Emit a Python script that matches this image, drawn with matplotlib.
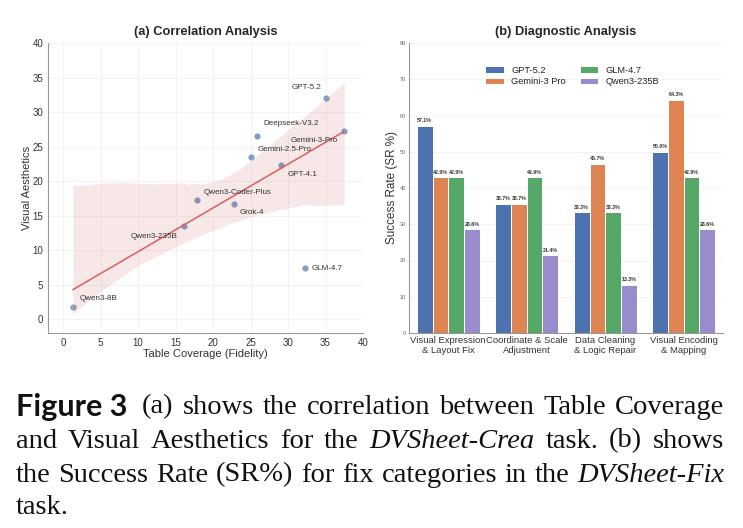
import matplotlib

matplotlib.use("Agg")

import matplotlib.pyplot as plt
import numpy as np
import seaborn as sns

# (a) correlation data
models = [
    "Qwen3-8B", "Qwen3-235B", "Qwen3-Coder-Plus", "Grok-4", "Gemini-2.5-Pro",
    "Deepseek-V3.2", "GPT-4.1", "GLM-4.7", "GPT-5.2", "Gemini-3-Pro",
]
coverage = [1.3, 16.1, 17.9, 22.8, 25.1, 25.9, 29.0, 32.3, 35.0, 37.5]
aesthetics = [1.7, 13.5, 17.3, 16.7, 23.5, 26.5, 22.4, 7.4, 32.0, 27.3]

# (b) diagnostic data
categories = [
    "Visual Expression\n& Layout Fix",
    "Coordinate & Scale\nAdjustment",
    "Data Cleaning\n& Logic Repair",
    "Visual Encoding\n& Mapping",
]
bar_models = ["GPT-5.2", "Gemini-3 Pro", "GLM-4.7", "Qwen3-235B"]
gpt52 = [57.1, 35.7, 33.3, 50.0]
gemini3 = [42.9, 35.7, 46.7, 64.3]
glm47 = [42.9, 42.9, 33.3, 42.9]
qwen235 = [28.6, 21.4, 13.3, 28.6]

# label offsets (points) and alignment for the scatter annotations
label_style = {
    "Qwen3-8B": ((4.9, 6.5), "left"),
    "Qwen3-235B": ((-4.3, -7.5), "right"),
    "Qwen3-Coder-Plus": ((4.3, 5.5), "left"),
    "Grok-4": ((4.3, -6.5), "left"),
    "Gemini-2.5-Pro": ((4.9, 5.5), "left"),
    "Deepseek-V3.2": ((4.3, 9.4), "left"),
    "GPT-4.1": ((4.9, -7.5), "left"),
    "GLM-4.7": ((4.9, 0.0), "left"),
    "GPT-5.2": ((-3.2, 7.5), "right"),
    "Gemini-3-Pro": ((-4.3, -7.0), "right"),
}

CAPTION = [
    [("Figure 3", "label"), ("(a) shows the correlation between Table Coverage", "")],
    [("and Visual Aesthetics for the", ""), ("DVSheet-Crea", "italic"), ("task.  (b) shows", "")],
    [("the Success Rate (SR%) for fix categories in the", ""), ("DVSheet-Fix", "italic")],
    [("task.", "")],
]

sns.set_theme(style="whitegrid")
plt.rcParams["font.family"] = ["Liberation Sans", "DejaVu Sans"]

W, H = 743, 528
fig = plt.figure(figsize=(W / 100, H / 100), dpi=100)


def px_box(x0, y0, x1, y1):
    return [x0 / W, 1 - y1 / H, (x1 - x0) / W, (y1 - y0) / H]


def style_axis(ax):
    for side in ("top", "right"):
        ax.spines[side].set_visible(False)
    for side in ("left", "bottom"):
        ax.spines[side].set_color("#999999")
        ax.spines[side].set_linewidth(0.8)
    ax.grid(color="#f0f0f0", linewidth=0.6)
    ax.tick_params(length=0, colors="#333333")


# ---- (a) Correlation Analysis
ax1 = fig.add_axes(px_box(48, 43, 363, 333))
sns.regplot(
    x=np.array(coverage),
    y=np.array(aesthetics),
    ax=ax1,
    ci=95,
    seed=42,
    scatter_kws={"s": 20, "color": "#4c72b0", "alpha": 0.7, "linewidths": 0},
    line_kws={"color": "#d65f5f", "linewidth": 1.1},
)
for name, x, y in zip(models, coverage, aesthetics):
    offset, ha = label_style[name]
    ax1.annotate(name, (x, y), xytext=offset, textcoords="offset points",
                 ha=ha, va="center", fontsize=5.8, color="#333333")
ax1.set_xlim(-2, 40)
ax1.set_ylim(-2, 40)
ax1.set_xticks(np.arange(0, 41, 5))
ax1.set_yticks(np.arange(0, 41, 5))
ax1.tick_params(labelsize=7)
ax1.set_xlabel("Table Coverage (Fidelity)", fontsize=8, labelpad=1, color="#333333")
ax1.set_ylabel("Visual Aesthetics", fontsize=8, labelpad=0.5, color="#333333")
ax1.set_title("(a) Correlation Analysis", fontsize=9.3, fontweight="bold", pad=6)
style_axis(ax1)

# ---- (b) Diagnostic Analysis
ax2 = fig.add_axes(px_box(409, 43, 723, 333))
colors = ["#4c72b0", "#dd8452", "#55a868", "#9a8bcc"]
series = [gpt52, gemini3, glm47, qwen235]
x = np.arange(len(categories))
width = 0.2
for i, (name, vals, color) in enumerate(zip(bar_models, series, colors)):
    bars = ax2.bar(x + (i - 1.5) * width, vals, width, label=name, color=color,
                   edgecolor="white", linewidth=0.7)
    ax2.bar_label(bars, fmt="%.1f%%", padding=2, fontsize=3.8,
                  fontweight="bold", color="#333333")
ax2.set_xlim(-0.5, 3.5)
ax2.set_ylim(0, 80)
ax2.set_yticks(np.arange(0, 81, 10))
ax2.set_xticks(x)
ax2.set_xticklabels(categories, fontsize=6.8, linespacing=1.2)
ax2.set_ylabel("Success Rate (SR %)", fontsize=8.4, labelpad=1, color="#333333")
ax2.set_title("(b) Diagnostic Analysis", fontsize=9.3, fontweight="bold", pad=6)
style_axis(ax2)
ax2.tick_params(axis="y", labelsize=4, colors="#666666", pad=2)
ax2.tick_params(axis="x", pad=2)
ax2.grid(axis="x", visible=False)
ax2.legend(loc="upper center", bbox_to_anchor=(0.52, 0.95), ncol=2, frameon=False,
           fontsize=6.7, handlelength=2.0, handleheight=0.7, handletextpad=0.8,
           columnspacing=1.5, labelspacing=0.25)

# ---- caption, justified by hand
renderer = fig.canvas.get_renderer()
left, right = 16, 724
line_y = [407, 441, 475, 508]
fonts = {
    "": dict(family="Liberation Serif", fontsize=20.5),
    "italic": dict(family="Liberation Serif", fontsize=20.5, style="italic"),
    "label": dict(family="Lato", fontsize=22, fontweight="bold"),
}
for row, (segments, y) in enumerate(zip(CAPTION, line_y)):
    words = []
    for text, kind in segments:
        if kind == "label":
            words.append((text, kind))
        else:
            words += [(w, kind) for w in text.split()]
    artists = []
    for w, kind in words:
        t = fig.text(0, 1 - y / H, w, va="center", ha="left", color="#111111", **fonts[kind])
        artists.append((t, t.get_window_extent(renderer).width, kind))
    total = sum(a[1] for a in artists)
    gaps = [1.6 if a[2] == "label" else 1.0 for a in artists[:-1]]
    if row < len(CAPTION) - 1:
        unit = (right - left - total) / sum(gaps)
    else:
        unit = 6.0
    xpos = left
    for k, (t, wdt, kind) in enumerate(artists):
        t.set_x(xpos / W)
        xpos += wdt + (gaps[k] * unit if k < len(gaps) else 0)

fig.savefig("out.png", dpi=100)
